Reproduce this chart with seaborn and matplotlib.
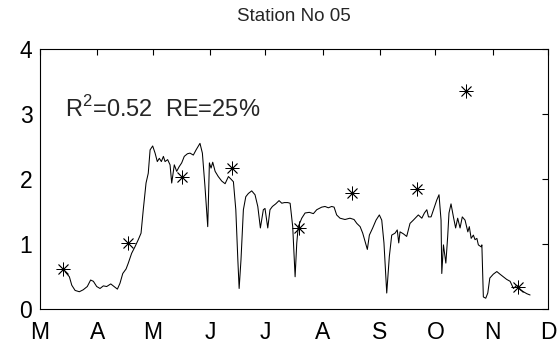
import matplotlib
matplotlib.use("Agg")
import matplotlib.pyplot as plt
import seaborn as sns
import pandas as pd

# ---- data ----
sim_day = [73.5, 75.9, 77.2, 79.0, 81.3, 83.4, 85.6, 87.4, 88.9, 90.7, 92.5, 94.3, 96.1, 98.3,
           100.1, 101.9, 103.3, 104.8, 106.6, 107.8, 109.6, 111.4, 113.2, 114.7, 115.9, 117.4,
           118.6, 119.6, 121.0, 122.3, 123.5, 124.6, 125.7, 126.8,
           127.7, 129.1, 130.4, 131.3, 132.7, 134.0, 135.3, 136.7, 138.1, 139.8, 141.2, 143.0,
           144.5, 146.6, 147.9, 149.3, 150.8, 151.7, 152.6, 153.5, 154.8, 156.5, 158.4, 160.2,
           162.0, 163.4, 164.7, 166.0, 167.1, 167.8, 168.8, 170.1, 171.4, 172.8, 174.6, 176.4,
           177.9, 179.3, 180.9, 181.8, 183.3, 184.5, 185.8, 187.6, 189.4, 190.9, 192.3, 194.1,
           195.4,
           196.8, 198.1, 199.0, 199.8, 201.7, 203.5, 205.8, 208.0, 209.8, 212.5, 214.3, 216.1,
           217.9, 219.2, 220.6, 222.4, 225.1, 227.8, 230.0, 231.5, 233.3, 234.7, 236.0, 237.2,
           238.3, 240.1, 241.9, 243.7, 245.0, 246.2, 247.7, 249.1, 250.4, 252.2, 253.4, 254.2,
           254.9, 256.7, 258.5, 260.3, 262.1,
           264.8, 266.7, 268.1, 269.4, 270.3, 271.7, 273.0, 274.8, 276.0, 277.1, 277.5, 278.4,
           279.7, 280.7, 281.4, 282.5, 283.8, 285.0, 286.1, 287.4, 288.6, 290.1, 291.6, 292.4,
           293.4, 294.6, 295.5, 296.5, 297.3, 298.8, 299.2, 300.0, 301.3, 302.4, 303.5, 305.4,
           307.3, 309.0, 310.8, 312.6, 314.5, 316.3, 318.1, 319.9, 321.7, 323.5, 325.3]
sim_val = [0.58, 0.50, 0.37, 0.29, 0.27, 0.30, 0.35, 0.45, 0.43, 0.35, 0.32, 0.36, 0.35, 0.39,
           0.35, 0.31, 0.40, 0.55, 0.62, 0.71, 0.86, 0.96, 1.07, 1.17, 1.53, 1.94,
           2.09, 2.45, 2.51, 2.40, 2.27, 2.32, 2.27, 2.35,
           2.27, 2.30, 2.22, 1.94, 2.22, 2.12, 2.19, 2.25, 2.35, 2.39, 2.40, 2.37,
           2.45, 2.55, 2.40, 1.89, 1.27, 2.25, 2.17, 2.26, 2.12, 2.04, 1.97, 1.93,
           2.04, 2.00, 1.96, 1.53, 0.76, 0.32, 0.76, 1.53, 1.73, 1.78, 1.82, 1.76,
           1.58, 1.25, 1.53, 1.55, 1.25, 1.53, 1.58, 1.62, 1.67, 1.63, 1.64, 1.64,
           1.63,
           1.27, 0.50, 1.02, 1.27, 1.40, 1.48, 1.49, 1.47, 1.53, 1.57, 1.58, 1.56,
           1.58, 1.57, 1.45, 1.40, 1.38, 1.40, 1.38, 1.32, 1.27, 1.17, 1.04, 0.92,
           1.14, 1.25, 1.37, 1.45, 1.37, 1.02, 0.25, 0.81, 1.14, 1.17, 1.22, 1.02,
           1.19, 1.16, 1.12, 1.32, 1.37,
           1.45, 1.40, 1.48, 1.53, 1.42, 1.42, 1.53, 1.68, 1.76, 1.37, 0.55, 0.99,
           0.71, 1.12, 1.48, 1.62, 1.42, 1.25, 1.40, 1.25, 1.42, 1.37, 1.19, 1.27,
           1.09, 1.14, 1.07, 1.09, 0.99, 0.96, 0.99, 0.19, 0.17, 0.25, 0.48, 0.54,
           0.58, 0.54, 0.50, 0.46, 0.43, 0.32, 0.37, 0.30, 0.27, 0.24, 0.22]

obs_day = [72.6, 107.8, 136.7, 164.1, 200.2, 228.8, 264.0, 290.5, 319.0]
obs_val = [0.615, 1.015, 2.04, 2.17, 1.255, 1.79, 1.85, 3.35, 0.35]

month_start = [60, 91, 121, 152, 182, 213, 244, 274, 305, 335]
month_labels = ["M", "A", "M", "J", "J", "A", "S", "O", "N", "D"]
y_ticks = [0, 1, 2, 3, 4]

title = "Station No 05"
stats_text = r"R$^2$=0.52  RE=25%"

# ---- plot ----
sns.set_style("white")
plt.rcParams["font.family"] = ["Liberation Sans", "DejaVu Sans"]
plt.rcParams["mathtext.fontset"] = "custom"
plt.rcParams["mathtext.rm"] = "Liberation Sans"

fig = plt.figure(figsize=(5.58, 3.46), dpi=100)
ax = fig.add_axes([40 / 558, 1 - 309.3 / 346, 508 / 558, (309.3 - 49) / 346])

sim = pd.DataFrame({"day": sim_day, "val": sim_val})
obs = pd.DataFrame({"day": obs_day, "val": obs_val})

sns.lineplot(data=sim, x="day", y="val", ax=ax, color="black", linewidth=0.75,
             sort=False, estimator=None)
sns.scatterplot(data=obs, x="day", y="val", ax=ax, marker=(8, 2, 0), s=90,
                color="black", edgecolor="black", linewidth=0.6, zorder=3)

ax.set_xlim(month_start[0], month_start[-1])
ax.set_ylim(y_ticks[0], y_ticks[-1])
ax.set_xticks(month_start)
ax.set_xticklabels(month_labels)
ax.set_yticks(y_ticks)
ax.set_yticklabels([str(t) for t in y_ticks])
ax.set_xlabel("")
ax.set_ylabel("")

ax.tick_params(direction="in", length=4, width=0.8, colors="black",
               top=True, right=True, labelsize=16.5)
ax.tick_params(axis="x", pad=8.5)
ax.tick_params(axis="y", pad=5.5)
for sp in ax.spines.values():
    sp.set_visible(True)
    sp.set_color("black")
    sp.set_linewidth(0.8)

ax.set_title(title, fontsize=13.5, pad=20)
ax.text(73.5, 2.95, stats_text, fontsize=17, ha="left", va="baseline")

fig.savefig("out.png", dpi=100)
